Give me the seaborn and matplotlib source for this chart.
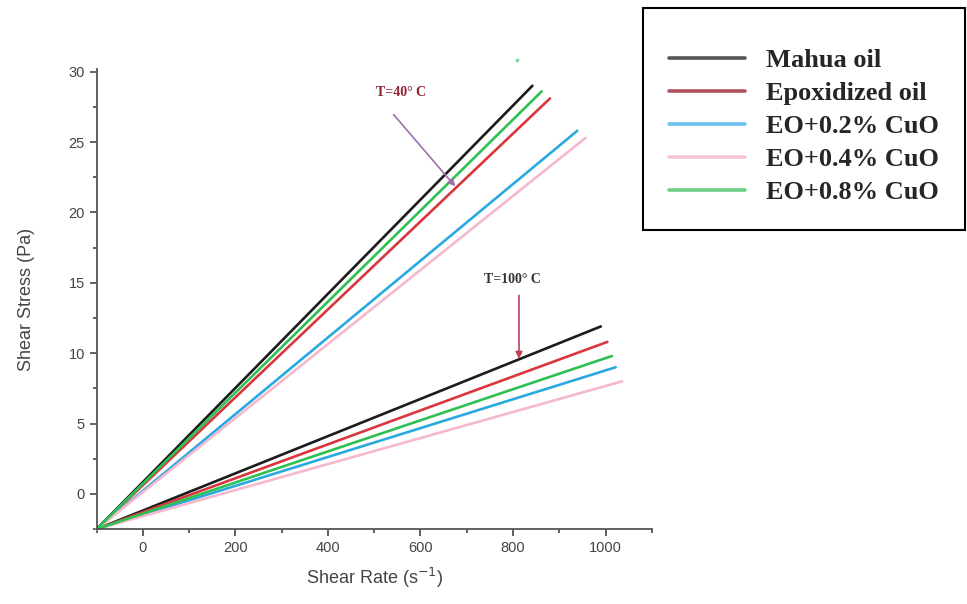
import numpy as np
import pandas as pd
import matplotlib
matplotlib.use("Agg")
import matplotlib.pyplot as plt
from matplotlib.lines import Line2D
from matplotlib.ticker import MultipleLocator
import seaborn as sns

# Data (flow curves, straight lines from a common start)
series = ["Mahua oil", "Epoxidized oil", "EO+0.2% CuO", "EO+0.4% CuO", "EO+0.8% CuO"]
colors = ["#1c1c1c", "#d9363e", "#2aa9e0", "#f6b8cc", "#2fc052"]
legend_colors = ["#555555", "#b05060", "#6cc3f0", "#f7c6d4", "#6ccf86"]
start_rate = -100
start_stress = -2.5
end_rate_40 = [842, 880, 939, 957, 862]
end_stress_40 = [29.0, 28.1, 25.8, 25.3, 28.6]
end_rate_100 = [990, 1004, 1022, 1036, 1014]
end_stress_100 = [11.9, 10.8, 9.0, 8.0, 9.8]
stray_point = (809, 30.8)  # small green speck above the plot

rows = []
for i, name in enumerate(series):
    for temp, er, es in [("40", end_rate_40, end_stress_40), ("100", end_rate_100, end_stress_100)]:
        rows.append({"series": name, "temp": temp, "rate": start_rate, "stress": start_stress})
        rows.append({"series": name, "temp": temp, "rate": er[i], "stress": es[i]})
df = pd.DataFrame(rows)

sns.set_theme(style="ticks")
plt.rcParams["font.family"] = ["Liberation Sans", "DejaVu Sans"]

fig = plt.figure(figsize=(9.67, 6.04), dpi=100)
ax = fig.add_axes([0.100, 0.124, 0.574, 0.762])

for name, col in zip(series, colors):
    sub = df[df["series"] == name]
    sns.lineplot(data=sub, x="rate", y="stress", units="temp", estimator=None,
                 color=col, lw=1.9, ax=ax, legend=False, clip_on=False)
ax.plot([stray_point[0]], [stray_point[1]], "s", ms=2, color="#7fd99a", clip_on=False)

ax.set_xlim(-100, 1100)
ax.set_ylim(-2.5, 30.2)
ax.xaxis.set_major_locator(MultipleLocator(200))
ax.xaxis.set_minor_locator(MultipleLocator(100))
ax.yaxis.set_major_locator(MultipleLocator(5))
ax.yaxis.set_minor_locator(MultipleLocator(2.5))
ax.set_xticks([0, 200, 400, 600, 800, 1000])

gray = "#555555"
for s in ["top", "right"]:
    ax.spines[s].set_visible(False)
for s in ["left", "bottom"]:
    ax.spines[s].set_color(gray)
    ax.spines[s].set_linewidth(1.3)
ax.tick_params(which="major", direction="out", length=5, width=1.3, color=gray,
               labelcolor="#444444", labelsize=10.5)
ax.tick_params(which="minor", direction="out", length=3, width=1.3, color=gray)

ax.set_xlabel(r"Shear Rate (s$^{-1}$)", fontsize=13, color="#444444", labelpad=8)
ax.set_ylabel("Shear Stress (Pa)", fontsize=13, color="#444444", labelpad=24)

# temperature annotations
serif = ["Liberation Serif", "DejaVu Serif"]
ax.annotate("", xy=(679, 21.7), xytext=(538, 27.1),
            arrowprops=dict(arrowstyle="-|>", color="#9b6fb0", lw=1.2, mutation_scale=10))
ax.text(557, 28.5, "T=40° C", family=serif, fontweight="bold", fontsize=10,
        color="#8b2434", ha="center", va="center")
ax.annotate("", xy=(813, 9.4), xytext=(813, 14.3),
            arrowprops=dict(arrowstyle="-|>", color="#c0405a", lw=1.2, mutation_scale=10))
ax.text(798, 15.2, "T=100° C", family=serif, fontweight="bold", fontsize=10,
        color="#333333", ha="center", va="center")

handles = [Line2D([0], [0], color=c, lw=2.6) for c in legend_colors]
leg = fig.legend(handles, series, loc="upper right", bbox_to_anchor=(0.998, 0.987),
                 prop={"family": serif, "weight": "bold", "size": 19},
                 title=" ", title_fontsize=4,
                 frameon=True, fancybox=False, edgecolor="black", framealpha=1,
                 borderpad=1.0, borderaxespad=0, labelspacing=0.36,
                 handlelength=2.85, handletextpad=0.8)
leg.get_frame().set_linewidth(1.5)

fig.savefig("out.png", dpi=100)
